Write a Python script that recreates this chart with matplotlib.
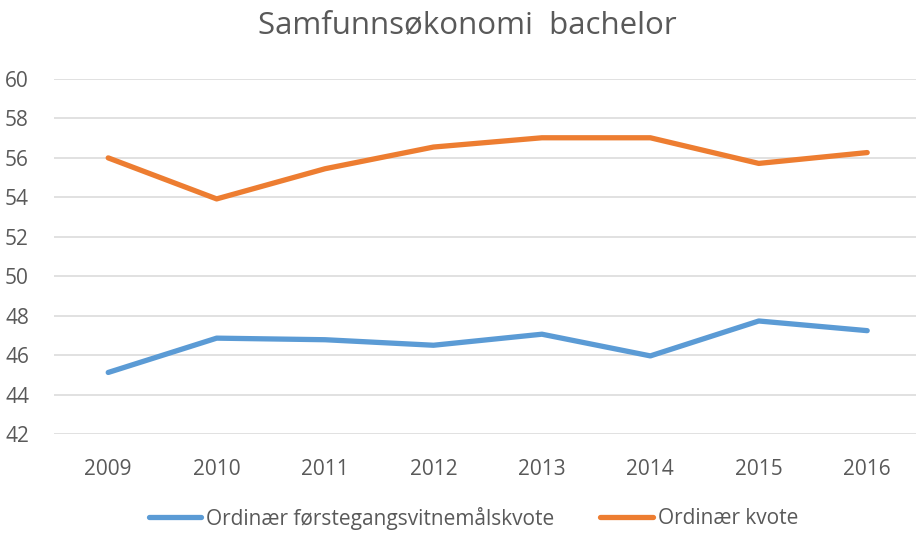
import matplotlib
matplotlib.use("Agg")
import matplotlib.pyplot as plt

years = ["2009", "2010", "2011", "2012", "2013", "2014", "2015", "2016"]
forstegang = [45.12, 46.86, 46.78, 46.5, 47.06, 45.96, 47.73, 47.24]
ordinaer = [56.0, 53.92, 55.45, 56.55, 57.02, 57.02, 55.72, 56.27]
series_names = ["Ordinær førstegangsvitnemålskvote", "Ordinær kvote"]
yticks = [42, 44, 46, 48, 50, 52, 54, 56, 58, 60]

plt.rcParams['font.family'] = ['Open Sans', 'DejaVu Sans']
W, H = 916, 536
fig = plt.figure(figsize=(W / 100, H / 100), dpi=100)
ax = fig.add_axes([54 / W, (H - 434) / H, 1 - 54 / W, (434 - 79) / H])

x = list(range(len(years)))
ax.plot(x, forstegang, color="#5B9BD5", lw=3.8, solid_capstyle="round", label=series_names[0])
ax.plot(x, ordinaer, color="#ED7D31", lw=3.8, solid_capstyle="round", label=series_names[1])

ax.set_xlim(-0.5, 7.45)
ax.set_ylim(42, 60)
ax.set_yticks(yticks)
ax.set_xticks(x)
ax.set_xticklabels(years)
ax.grid(axis="y", color="#D9D9D9", lw=1.1)
ax.set_axisbelow(True)
for s in ax.spines.values():
    s.set_visible(False)
ax.tick_params(length=0, labelsize=15, labelcolor="#595959")
ax.tick_params(axis="x", pad=18)
ax.tick_params(axis="y", pad=18)

fig.text(0.51, 1 - 25 / H, "Samfunnsøkonomi  bachelor", ha="center", va="center",
         fontsize=22.5, color="#595959")

fig.legend(loc="center", bbox_to_anchor=(0.517, 18 / H), ncol=2, frameon=False,
           fontsize=15, labelcolor="#595959", handlelength=2.5, handletextpad=0.25,
           columnspacing=2.2)

fig.savefig("out.png", dpi=100, facecolor="white")
